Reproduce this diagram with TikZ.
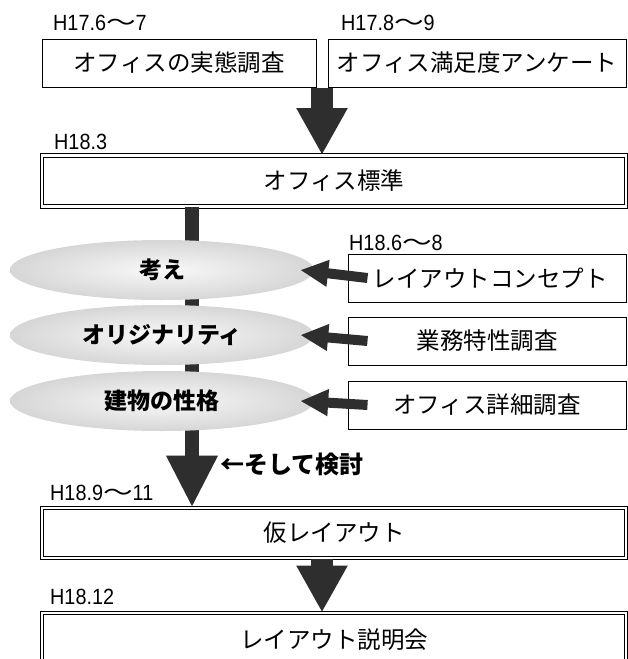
\documentclass[tikz,border=0pt]{standalone}
\usepackage{fontspec}
\setmainfont{Liberation Sans}
\newfontfamily\datefont[FakeStretch=0.9]{Liberation Sans}
\newfontfamily\jp{Noto Sans CJK JP}
\usetikzlibrary{arrows.meta,calc,shapes.geometric}
\newcommand{\wave}{\scalebox{1.35}[1]{\jp 〜}}

\begin{document}
\begin{tikzpicture}[x=1pt,y=-1pt,
survey/.style={
	rectangle,draw=black,line width=1pt,inner sep=0pt,
	minimum height=48pt,
	font=\jp\fontsize{23.5}{25}\selectfont},
stage/.style={
	rectangle,draw=black,line width=1pt,double=white,double distance=2.5pt,
	inner sep=0pt,minimum width=584pt,
	font=\jp\fontsize{23.5}{25}\selectfont},
idea/.style={
	ellipse,inner sep=0pt,minimum width=304pt,minimum height=60pt,
	inner color=gray!5,outer color=gray!32,
	font=\jp\bfseries\fontsize{23}{25}\selectfont},
period/.style={anchor=west,inner sep=0pt,font=\datefont\fontsize{22}{24}\selectfont},
note/.style={anchor=west,inner sep=0pt,font=\jp\bfseries\fontsize{24}{26}\selectfont},
bigarrow/.style={draw=black!82,line width=22pt,-{Triangle[width=48pt,length=47pt]}},
barrow/.style={draw=black!82,line width=14pt,-{Triangle[width=48pt,length=52pt]}},
sidearrow/.style={draw=black!82,line width=10pt,-{Triangle[width=25pt,length=28pt]}},
]
\useasboundingbox (0,0) rectangle (628,659);
\clip (0,0) rectangle (628,659);

\node[period] (d1) at (53,23) {H17.6\wave7};
\node[period] (d2) at (341,23) {H17.8\wave9};
\node[period] (d3) at (54,142) {H18.3};
\node[period] (d4) at (349,243) {H18.6\wave8};
\node[period] (d5) at (50,493) {H18.9\wave11};
\node[period] (d6) at (50,597) {H18.12};

\node[survey,minimum width=274pt] (jittai) at (179,63) {オフィスの実態調査};
\node[survey,minimum width=298pt] (manzoku) at (477,63) {オフィス満足度アンケート};
\node[stage,minimum height=51pt] (hyojun) at (334,181) {オフィス標準};
\node[stage,minimum height=50pt] (kari) at (334,533) {仮レイアウト};
\node[stage,minimum height=54pt] (setsumei) at (334,640) {レイアウト説明会};

\node[survey,minimum width=278pt] (concept) at (487,278) {\hspace*{6pt}レイアウトコンセプト};
\node[survey,minimum width=278pt] (gyomu) at (487,341) {業務特性調査};
\node[survey,minimum width=278pt] (shosai) at (487,405) {オフィス詳細調査};

\coordinate (mid) at ($(jittai.south east)!0.5!(manzoku.south west)$);
\coordinate (bar) at (192,0);

\draw[barrow] (hyojun.south -| bar) -- (kari.north -| bar);

\node[idea] (kangae) at (162,270) {考え};
\node[idea] (original) at (162,335) {オリジナリティ};
\node[idea] (tatemono) at (162,401) {建物の性格};

\draw[bigarrow] (mid) -- (hyojun.north -| mid);
\draw[bigarrow] (kari.south -| mid) -- (setsumei.north -| mid);

\draw[sidearrow] ([xshift=20pt]concept.west) -- ([xshift=-14pt]kangae.east);
\draw[sidearrow] ([xshift=20pt]gyomu.west) -- ([xshift=-14pt]original.east);
\draw[sidearrow] ([xshift=20pt]shosai.west) -- ([xshift=-14pt]tatemono.east);

\node[note] (kento) at (220,464) {←そして検討};
\end{tikzpicture}
\end{document}
